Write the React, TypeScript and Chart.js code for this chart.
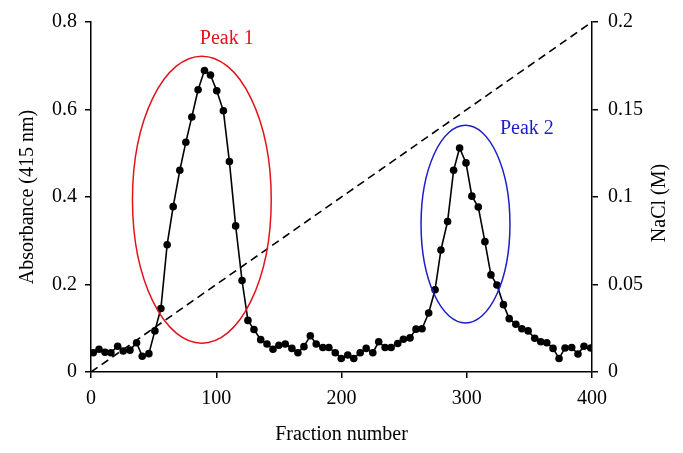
import React, { useEffect, useRef } from "react";
import { Chart, registerables } from "chart.js";

Chart.register(...registerables);

const FRACTIONS = [1.8, 6.4, 11.2, 15.9, 21.3, 25.7, 31.1, 36.4, 40.9, 46.2, 51, 55.8, 60.8, 65.6, 70.9, 75.7, 80.5, 85.5, 90.6, 95.4, 100.4, 105.7, 110.5, 115.5, 120.6, 125.3, 130.1, 135.5, 140.5, 145.3, 150, 155.1, 160.4, 165.2, 170, 175.1, 179.8, 185.1, 189.9, 195, 199.8, 205, 209.8, 214.9, 219.7, 225, 229.7, 234.8, 239.6, 244.9, 249.4, 254.7, 259.5, 264.3, 269.6, 274.7, 279.4, 284.7, 289.5, 294.3, 299.4, 304.1, 309.2, 314.5, 319.3, 324.1, 329.3, 333.9, 339.2, 344, 349, 354.3, 359.1, 363.9, 368.9, 373.7, 378.5, 383.8, 388.8, 393.6, 399];
const ABSORBANCE = [0.044, 0.052, 0.045, 0.044, 0.059, 0.048, 0.05, 0.067, 0.036, 0.042, 0.094, 0.145, 0.291, 0.378, 0.461, 0.525, 0.583, 0.645, 0.689, 0.679, 0.643, 0.597, 0.481, 0.334, 0.209, 0.118, 0.097, 0.074, 0.064, 0.052, 0.061, 0.064, 0.054, 0.044, 0.058, 0.083, 0.064, 0.056, 0.056, 0.044, 0.031, 0.039, 0.031, 0.044, 0.054, 0.044, 0.069, 0.056, 0.056, 0.065, 0.075, 0.078, 0.098, 0.099, 0.135, 0.188, 0.279, 0.344, 0.461, 0.512, 0.478, 0.402, 0.377, 0.298, 0.222, 0.199, 0.154, 0.122, 0.109, 0.099, 0.094, 0.077, 0.069, 0.067, 0.054, 0.031, 0.055, 0.056, 0.041, 0.059, 0.055];
const NACL_X = [0, 400];
const NACL_M = [0, 0.2];

const RIGHT_TITLE = "NaCl (M)";

// Peak annotations (data units: center x, center absorbance, half-width in fractions, half-height in absorbance)
const PEAK_LABELS = ["Peak 1", "Peak 2"];
const PEAK_COLORS = ["#e3131b", "#1d1dc8"];
const PEAK_CX = [88.5, 299];
const PEAK_CY = [0.394, 0.338];
const PEAK_RX = [55.4, 35.5];
const PEAK_RY = [0.328, 0.226];
const PEAK_LABEL_X = [108.4, 348];
const PEAK_LABEL_Y = [0.761, 0.557];

const FONT = "'Liberation Serif', 'Times New Roman', serif";

const fmt = (v: any) => String(Number(Number(v).toFixed(3)));

const peakPlugin = {
  id: "peaks",
  afterDatasetsDraw(chart: any) {
    const { ctx, scales, chartArea } = chart;
    const x = scales.x;
    const y = scales.y;
    ctx.save();
    for (let i = 0; i < PEAK_LABELS.length; i++) {
      const cx = x.getPixelForValue(PEAK_CX[i]);
      const cy = y.getPixelForValue(PEAK_CY[i]);
      const rx = Math.abs(x.getPixelForValue(PEAK_CX[i] + PEAK_RX[i]) - cx);
      const ry = Math.abs(y.getPixelForValue(PEAK_CY[i] + PEAK_RY[i]) - cy);
      ctx.beginPath();
      ctx.ellipse(cx, cy, rx, ry, 0, 0, Math.PI * 2);
      ctx.strokeStyle = PEAK_COLORS[i];
      ctx.lineWidth = 1.5;
      ctx.stroke();
      ctx.fillStyle = PEAK_COLORS[i];
      ctx.font = `20px ${FONT}`;
      ctx.textAlign = "center";
      ctx.textBaseline = "middle";
      ctx.fillText(PEAK_LABELS[i], x.getPixelForValue(PEAK_LABEL_X[i]), y.getPixelForValue(PEAK_LABEL_Y[i]));
    }
    // right axis title, reading bottom-to-top
    const r = scales.y2;
    ctx.translate(r.right - 23, (chartArea.top + chartArea.bottom) / 2 + 6);
    ctx.rotate(-Math.PI / 2);
    ctx.fillStyle = "#000";
    ctx.font = `20px ${FONT}`;
    ctx.textAlign = "center";
    ctx.textBaseline = "middle";
    ctx.fillText(RIGHT_TITLE, 0, 0);
    ctx.restore();
  },
};

export default function App() {
  const ref = useRef<HTMLCanvasElement>(null);
  useEffect(() => {
    document.body.style.margin = "0";
    const absData = FRACTIONS.map((f, i) => ({ x: f, y: ABSORBANCE[i] }));
    const naclData = NACL_X.map((f, i) => ({ x: f, y: NACL_M[i] }));
    const tickFont = { family: FONT, size: 20 };
    const chart = new Chart(ref.current!, {
      type: "scatter",
      data: {
        datasets: [
          {
            data: naclData,
            yAxisID: "y2",
            showLine: true,
            borderColor: "#000",
            borderWidth: 1.6,
            borderDash: [8, 5],
            pointRadius: 0,
          },
          {
            data: absData,
            yAxisID: "y",
            showLine: true,
            borderColor: "#000",
            backgroundColor: "#000",
            borderWidth: 1.6,
            pointRadius: 3.8,
            pointBackgroundColor: "#000",
            pointBorderWidth: 0,
          },
        ],
      },
      options: {
        animation: false,
        responsive: false,
        layout: { padding: { top: 20, left: 0, right: 0, bottom: 0 } },
        plugins: { legend: { display: false }, tooltip: { enabled: false } },
        scales: {
          x: {
            type: "linear",
            min: 0,
            max: 400,
            afterFit: (s: any) => { s.height = 81; },
            ticks: { stepSize: 100, color: "#000", font: tickFont, padding: 9, maxRotation: 0 },
            grid: { drawOnChartArea: false, drawTicks: true, tickLength: 6, color: "#000", lineWidth: 1.5 },
            border: { display: true, color: "#000", width: 1.5 },
            title: { display: true, text: "Fraction number", color: "#000", font: tickFont, padding: { top: 0, bottom: 6 } },
          },
          y: {
            position: "left",
            min: 0,
            max: 0.8,
            afterFit: (s: any) => { s.width = 91; },
            ticks: { stepSize: 0.2, color: "#000", font: tickFont, padding: 8, callback: fmt },
            grid: { drawOnChartArea: false, drawTicks: true, tickLength: 6, color: "#000", lineWidth: 1.5 },
            border: { display: true, color: "#000", width: 1.5 },
            title: { display: true, text: "Absorbance (415 nm)", color: "#000", font: tickFont, padding: { top: 16, bottom: 0 } },
          },
          y2: {
            position: "right",
            min: 0,
            max: 0.2,
            afterFit: (s: any) => { s.width = 91; },
            ticks: { stepSize: 0.05, color: "#000", font: tickFont, padding: 10, callback: fmt },
            grid: { drawOnChartArea: false, drawTicks: true, tickLength: 6, color: "#000", lineWidth: 1.5 },
            border: { display: true, color: "#000", width: 1.5 },
            title: { display: false },
          },
        },
      },
      plugins: [peakPlugin],
    } as any);
    return () => chart.destroy();
  }, []);
  return <canvas ref={ref} width={683} height={453} style={{ display: "block" }} />;
}
